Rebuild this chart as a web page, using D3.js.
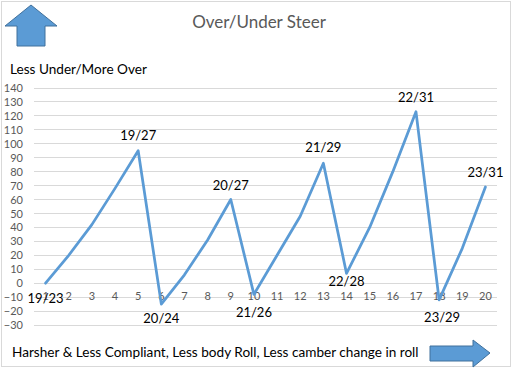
<!DOCTYPE html>
<html><head><meta charset="utf-8">
<script src="https://cdn.jsdelivr.net/npm/d3@7"></script>
<style>body{margin:0;background:#fff}svg{display:block}</style>
</head><body>
<script>
const categories = ["1","2","3","4","5","6","7","8","9","10","11","12","13","14","15","16","17","18","19","20"];
const values = [0, 20, 42, 68, 95, -15, 6, 31, 60, -8, 20, 48, 86, 7, 40, 80, 123, -12, 25, 69];
const yTicks = [-30,-20,-10,0,10,20,30,40,50,60,70,80,90,100,110,120,130,140];
const labelIndex = [0, 4, 5, 8, 9, 12, 13, 16, 17, 19];
const labelText = ["19/23","19/27","20/24","20/27","21/26","21/29","22/28","22/31","23/29","23/31"];
const title = "Over/Under Steer";
const yTitle = "Less Under/More Over";
const xTitle = "Harsher & Less Compliant, Less body Roll, Less camber change in roll";

// label layout (pixel nudges, as placed in the reference)
const labelDy = [15, -15, 14, -14, 18, -16, 8, -14, 18, -15];
const labelDx = [0, 0, 0, 0, 0, 0, 0, 0, 3, 0];

const W=517,H=369;
const font="Lato, 'Open Sans', sans-serif";
const svg=d3.select("body").append("svg").attr("width",W).attr("height",H);
svg.append("rect").attr("x",1.5).attr("y",1.5).attr("width",509).attr("height",365)
  .attr("fill","#fff").attr("stroke","#d9d9d9");

const x=d3.scaleBand().domain(categories).range([34,497]);
const y=d3.scaleLinear().domain([-30,140]).range([325,88]);
const cx=i=>x(categories[i])+x.bandwidth()/2;

// gridlines
svg.append("g").selectAll("line").data(yTicks).join("line")
  .attr("x1",34).attr("x2",497).attr("y1",d=>y(d)).attr("y2",d=>y(d))
  .attr("stroke","#d9d9d9").attr("stroke-width",1).attr("shape-rendering","crispEdges");

// y axis labels
const ya=svg.append("g").attr("transform","translate(25,0)")
  .call(d3.axisLeft(y).tickValues(yTicks).tickSize(0).tickPadding(2));
ya.select(".domain").remove();
ya.selectAll("text").attr("font-family",font).attr("font-size",11).attr("fill","#595959");

// x axis at 0
const xa=svg.append("g").attr("transform",`translate(0,${y(0)})`)
  .call(d3.axisBottom(x).tickSize(0).tickPadding(9));
xa.select(".domain").remove();
xa.selectAll("text").attr("font-family",font).attr("font-size",11).attr("fill","#595959");

// line
const line=d3.line().x((d,i)=>cx(i)).y(d=>y(d));
svg.append("path").datum(values).attr("d",line).attr("fill","none")
  .attr("stroke","#5B9BD5").attr("stroke-width",2.75).attr("stroke-linejoin","round").attr("stroke-linecap","round");

// point labels
svg.append("g").selectAll("text").data(labelIndex).join("text")
  .attr("x",(d,k)=>cx(d)+labelDx[k])
  .attr("y",(d,k)=>y(values[d])+labelDy[k])
  .attr("dy","0.35em").attr("text-anchor","middle")
  .attr("font-family",font).attr("font-size",13).attr("fill","#000")
  .text((d,k)=>labelText[k]);

// titles
svg.append("text").attr("x",259).attr("y",22).attr("dy","0.35em").attr("text-anchor","middle")
  .attr("font-family",font).attr("font-size",17).attr("fill","#595959").text(title);
svg.append("text").attr("x",10).attr("y",69).attr("dy","0.35em")
  .attr("font-family",font).attr("font-size",13.6).attr("fill","#000").text(yTitle);
svg.append("text").attr("x",12).attr("y",352).attr("dy","0.35em")
  .attr("font-family",font).attr("font-size",13.6).attr("fill","#000").text(xTitle);

// arrows
const arrowStyle=s=>s.attr("fill","#5B9BD5").attr("stroke","#41719C").attr("stroke-width",1);
svg.append("path").call(arrowStyle)
  .attr("d","M31,5 L57,26 L45,26 L45,46 L17,46 L17,26 L5,26 Z");
svg.append("path").call(arrowStyle)
  .attr("d","M430,346 L473,346 L473,340 L490,353 L473,367 L473,361 L430,361 Z");
</script>
</body></html>
